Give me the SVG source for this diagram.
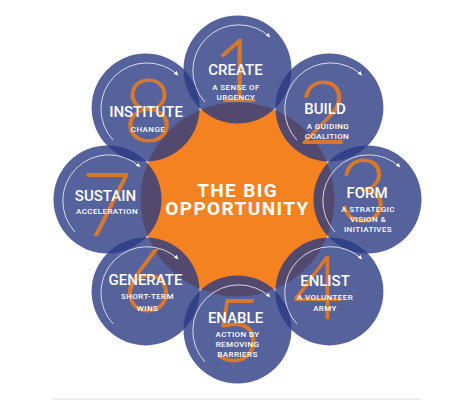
<svg xmlns="http://www.w3.org/2000/svg" width="474" height="400" viewBox="0 0 474 400">
  <defs>
    <marker id="ah" viewBox="0 0 10 10" refX="8" refY="5" markerWidth="5" markerHeight="5" orient="auto" markerUnits="userSpaceOnUse">
      <path d="M0,1 L9,5 L0,9 Z" fill="#ffffff"/>
    </marker>
    <style>
      .disc { fill: #2a3b83; fill-opacity: 0.8; }
      .arc { fill: none; stroke: #ffffff; stroke-width: 0.9; stroke-opacity: 0.85; marker-end: url(#ah); }
      .num { font-family: Lato, "Liberation Sans", sans-serif; font-weight: 300; font-size: 88px; fill: #d9782c; text-anchor: middle; }
      .ttl { font-family: Roboto, "Liberation Sans", sans-serif; font-weight: 500; font-size: 15px; fill: #ffffff; text-anchor: middle; }
      .sub { font-family: Roboto, "Liberation Sans", sans-serif; font-weight: 500; font-size: 8px; letter-spacing: 0.4px; fill: #ffffff; text-anchor: middle; }
      .big { font-family: Roboto, "Liberation Sans", sans-serif; font-weight: 700; font-size: 19px; letter-spacing: 1.4px; fill: #ffffff; text-anchor: middle; }
    </style>
  </defs>
  <rect width="474" height="400" fill="#ffffff"/>
  <g id="center">
    <circle cx="237.5" cy="199.5" r="97" fill="#f58220"/>
  </g>
  <g id="node1">
    <circle class="disc" cx="237.5" cy="69.5" r="54"/>
    <path class="arc" d="M205,102 A46,46 0 0 1 270,37"/>
    <text class="num" x="237" y="102">1</text>
    <text class="ttl" x="235.5" y="75">CREATE</text>
    <text class="sub" x="236" y="90">A SENSE OF</text>
    <text class="sub" x="236" y="99.5">URGENCY</text>
  </g>
  <g id="node2">
    <circle class="disc" cx="329.4" cy="107.6" r="54"/>
    <path class="arc" d="M296.9,140.1 A46,46 0 0 1 361.9,75.1"/>
    <text class="num" x="323" y="144">2</text>
    <text class="ttl" x="325" y="114">BUILD</text>
    <text class="sub" x="328" y="129">A GUIDING</text>
    <text class="sub" x="327" y="138.5">COALITION</text>
  </g>
  <g id="node3">
    <circle class="disc" cx="367.5" cy="199.5" r="54"/>
    <path class="arc" d="M335,232 A46,46 0 0 1 400,167"/>
    <text class="num" x="363" y="222">3</text>
    <text class="ttl" x="367" y="198">FORM</text>
    <text class="sub" x="368" y="212">A STRATEGIC</text>
    <text class="sub" x="368" y="222">VISION &amp;</text>
    <text class="sub" x="368" y="232">INITIATIVES</text>
  </g>
  <g id="node4">
    <circle class="disc" cx="329.4" cy="291.4" r="54"/>
    <path class="arc" d="M296.9,323.9 A46,46 0 0 1 361.9,258.9"/>
    <text class="num" x="318" y="319">4</text>
    <text class="ttl" x="325" y="286">ENLIST</text>
    <text class="sub" x="325" y="300">A VOLUNTEER</text>
    <text class="sub" x="325" y="311">ARMY</text>
  </g>
  <g id="node5">
    <circle class="disc" cx="237.5" cy="329.5" r="54"/>
    <path class="arc" d="M205,362 A46,46 0 0 1 270,297"/>
    <text class="num" x="237" y="362">5</text>
    <text class="ttl" x="235.5" y="323">ENABLE</text>
    <text class="sub" x="237.5" y="337">ACTION BY</text>
    <text class="sub" x="237.5" y="347">REMOVING</text>
    <text class="sub" x="237.5" y="357">BARRIERS</text>
  </g>
  <g id="node6">
    <circle class="disc" cx="145.6" cy="291.4" r="54"/>
    <path class="arc" d="M113.1,323.9 A46,46 0 0 1 178.1,258.9"/>
    <text class="num" x="147.5" y="312">6</text>
    <text class="ttl" x="145.5" y="285">GENERATE</text>
    <text class="sub" x="147.5" y="299">SHORT-TERM</text>
    <text class="sub" x="147.5" y="311">WINS</text>
  </g>
  <g id="node7">
    <circle class="disc" cx="107.5" cy="199.5" r="54"/>
    <path class="arc" d="M75,232 A46,46 0 0 1 140,167"/>
    <text class="num" x="106.5" y="236">7</text>
    <text class="ttl" x="105.5" y="201">SUSTAIN</text>
    <text class="sub" x="107" y="214">ACCELERATION</text>
  </g>
  <g id="node8">
    <circle class="disc" cx="145.6" cy="107.6" r="54"/>
    <path class="arc" d="M113.1,140.1 A46,46 0 0 1 178.1,75.1"/>
    <text class="num" x="148.5" y="142">8</text>
    <text class="ttl" x="146" y="117">INSTITUTE</text>
    <text class="sub" x="148" y="132">CHANGE</text>
  </g>
  <g id="center-label">
    <text class="big" x="237.5" y="197">THE BIG</text>
    <text class="big" x="237.5" y="215">OPPORTUNITY</text>
  </g>
  <g id="connectors"/>
  <line x1="52" y1="399" x2="422" y2="399" stroke="#dddddd" stroke-width="1"/>
</svg>
